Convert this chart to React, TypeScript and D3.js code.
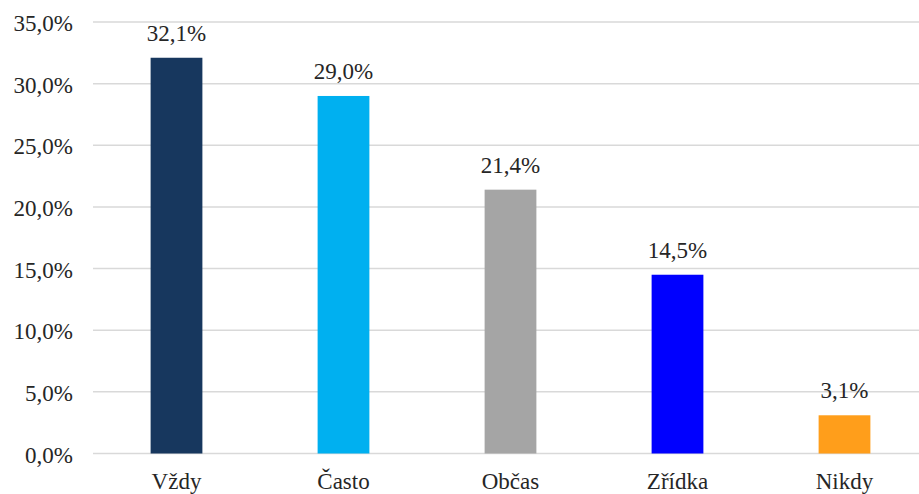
import React from "react";
import * as d3 from "d3";

const categories = ["Vždy", "Často", "Občas", "Zřídka", "Nikdy"];
const values = [32.1, 29.0, 21.4, 14.5, 3.1];
const colors = ["#17375E", "#00B0F0", "#A5A5A5", "#0000FF", "#FF9E1B"];
const yTicks = [0, 5, 10, 15, 20, 25, 30, 35];

const W = 919;
const H = 494;
const fmt = (v: number) => v.toFixed(1).replace(".", ",") + "%";

export default function App() {
  const x = d3.scaleBand<string>().domain(categories).range([93, 928]).paddingInner(0.69).paddingOuter(0.345);
  const y = d3.scaleLinear().domain([0, 35]).range([453.5, 22]);
  const textStyle: React.CSSProperties = { fontFamily: "Liberation Serif, DejaVu Serif, serif", fontSize: "23px" };
  return (
    <svg width={W} height={H} style={{ position: "absolute", left: 0, top: 0, background: "#fff" }}>
      {yTicks.map((t) => (
        <g key={t}>
          <line x1={93} x2={W} y1={y(t)} y2={y(t)} stroke="#D9D9D9" strokeWidth={1.5} />
          <text x={73} y={y(t) + 9} textAnchor="end" style={textStyle} fill="#262626">
            {fmt(t)}
          </text>
        </g>
      ))}
      {categories.map((c, i) => (
        <g key={c}>
          <rect x={x(c)} y={y(values[i])} width={x.bandwidth()} height={y(0) - y(values[i])} fill={colors[i]} />
          <text x={x(c)! + x.bandwidth() / 2} y={y(values[i]) - 17} textAnchor="middle" style={textStyle} fill="#262626">
            {fmt(values[i])}
          </text>
          <text x={x(c)! + x.bandwidth() / 2} y={489} textAnchor="middle" style={textStyle} fill="#262626">
            {c}
          </text>
        </g>
      ))}
    </svg>
  );
}
